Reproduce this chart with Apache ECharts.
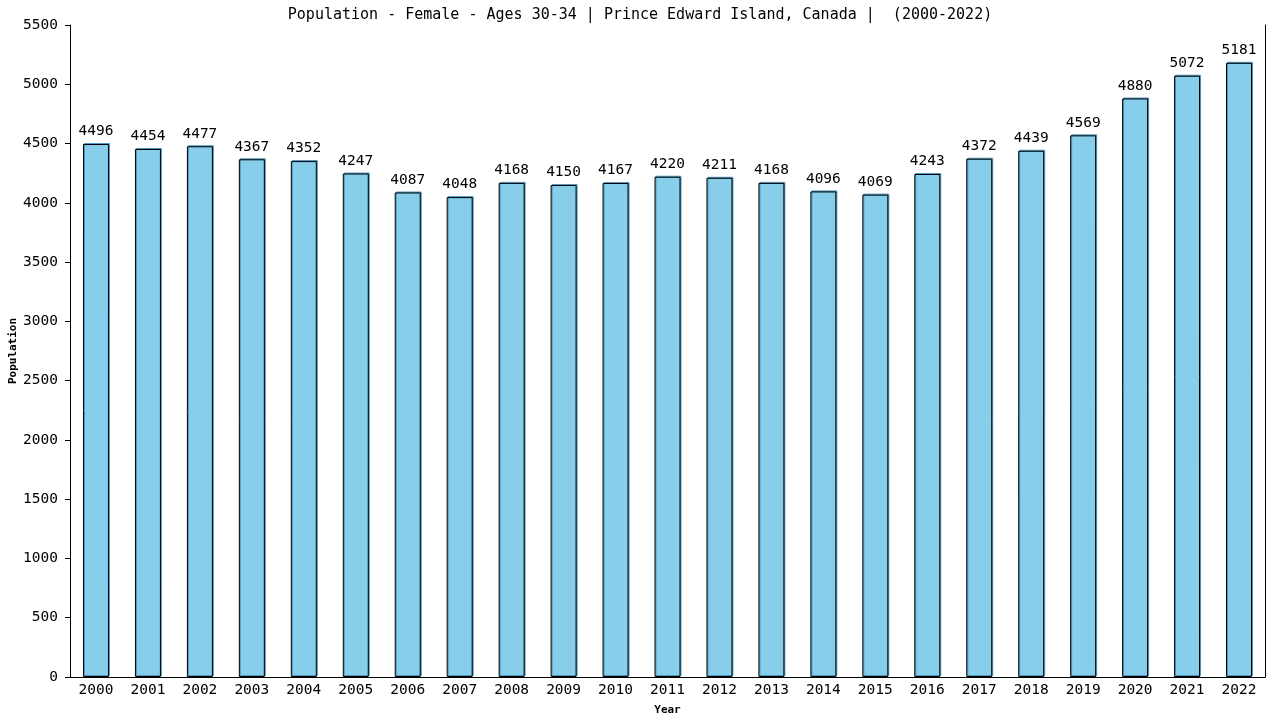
<!DOCTYPE html>
<html>
<head>
<meta charset="utf-8">
<script src="https://cdn.jsdelivr.net/npm/echarts@6/dist/echarts.min.js"></script>
<style>html,body{margin:0;padding:0;background:#fff}#c{width:1280px;height:720px}</style>
</head>
<body>
<div id="c"></div>
<script>
const titleText = "Population - Female - Ages 30-34 | Prince Edward Island, Canada |  (2000-2022)";
const yAxisTitle = "Population";
const xAxisTitle = "Year";
const years = ["2000","2001","2002","2003","2004","2005","2006","2007","2008","2009","2010","2011","2012","2013","2014","2015","2016","2017","2018","2019","2020","2021","2022"];
const population = [4496,4454,4477,4367,4352,4247,4087,4048,4168,4150,4167,4220,4211,4168,4096,4069,4243,4372,4439,4569,4880,5072,5181];
const yMin = 0, yMax = 5500, yStep = 500;

const FONT = "'DejaVu Sans Mono', monospace";
const chart = echarts.init(document.getElementById('c'), null, {renderer:'canvas'});
chart.setOption({
  animation: false,
  backgroundColor: '#ffffff',
  title: {
    text: titleText, left: 'center', top: 3,
    textStyle: {fontFamily: FONT, fontSize: 15, fontWeight: 'normal', color: '#000'}
  },
  graphic: [{
    type: 'text', x: 13, y: 351, rotation: Math.PI / 2,
    style: {text: yAxisTitle, align: 'center', verticalAlign: 'middle',
      fontFamily: FONT, fontSize: 11, fontWeight: 'bold', fill: '#000'}
  }],
  grid: {left: 70, right: 15, top: 25, bottom: 43, containLabel: false, outerBoundsMode: 'none'},
  xAxis: {
    type: 'category', data: years,
    name: xAxisTitle, nameLocation: 'middle', nameGap: 28, nameMoveOverlap: false,
    nameTextStyle: {fontFamily: FONT, fontSize: 11, fontWeight: 'bold', color: '#000'},
    axisLine: {show: true, lineStyle: {color: '#000', width: 1}},
    axisTick: {show: false},
    axisLabel: {fontFamily: FONT, fontSize: 14.5, color: '#000', margin: 6, interval: 0},
    splitLine: {show: false}
  },
  yAxis: [{
    type: 'value', min: yMin, max: yMax, interval: yStep,
    axisLine: {show: true, lineStyle: {color: '#000', width: 1}},
    axisTick: {show: true, length: 5, lineStyle: {color: '#000'}},
    axisLabel: {fontFamily: FONT, fontSize: 14.5, color: '#000', margin: 12, formatter: v => String(v)},
    splitLine: {show: false}
  },{
    type: 'value', min: yMin, max: yMax, interval: yStep, position: 'right',
    axisLine: {show: true, lineStyle: {color: '#000', width: 1}},
    axisTick: {show: false}, axisLabel: {show: false}, splitLine: {show: false}
  }],
  series: [{
    type: 'bar', data: population, barWidth: '50%',
    itemStyle: {
      color: '#87CEEB', borderColor: '#000', borderWidth: 1,
      shadowColor: '#4f97c0', shadowOffsetX: 1, shadowOffsetY: -1, shadowBlur: 0
    },
    label: {
      show: true, position: 'top', distance: 5,
      fontFamily: FONT, fontSize: 14.5, color: '#000'
    }
  }]
});
</script>
</body>
</html>
